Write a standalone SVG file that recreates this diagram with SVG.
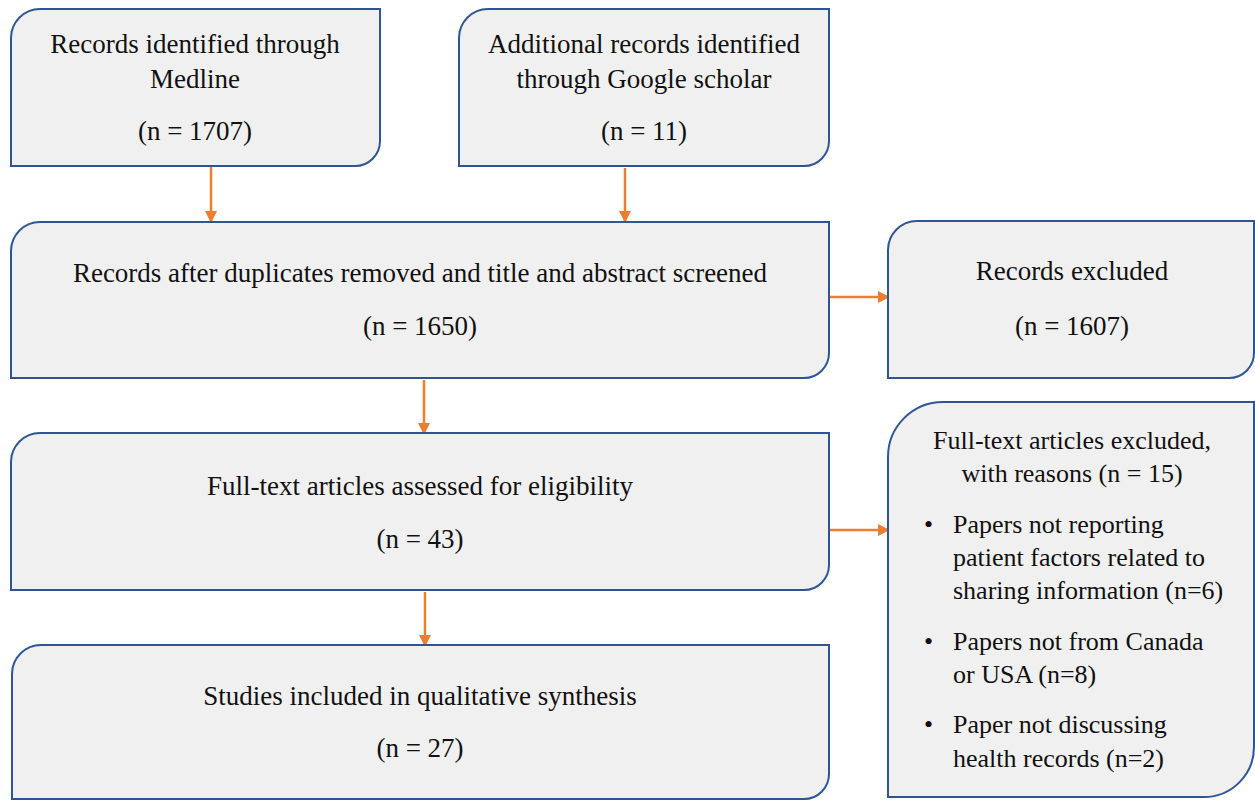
<svg xmlns="http://www.w3.org/2000/svg" width="1255" height="800" viewBox="0 0 1255 800">
<style>
.box{fill:#f0f0f0;stroke:#2f5597;stroke-width:2}
.t{font-family:"Liberation Serif","Times New Roman",serif;font-size:27px;fill:#111}
.s{font-size:26px}
.c{text-anchor:middle}
.arr{stroke:#ed7d31;stroke-width:2.5;fill:none;marker-end:url(#ah)}
</style>
<defs>
<marker id="ah" markerWidth="12" markerHeight="12" refX="10" refY="6" orient="auto" markerUnits="userSpaceOnUse">
<path d="M0,0 L12,6 L0,12 Z" fill="#ed7d31"/>
</marker>
</defs>
<rect width="1255" height="800" fill="#ffffff"/>
<g id="connectors">
<line class="arr" x1="211" y1="167" x2="211" y2="221"/>
<line class="arr" x1="625" y1="168" x2="625" y2="221"/>
<line class="arr" x1="830" y1="297" x2="888" y2="297"/>
<line class="arr" x1="424" y1="380" x2="424" y2="433"/>
<line class="arr" x1="425" y1="592" x2="425" y2="645"/>
<line class="arr" x1="830" y1="530" x2="888" y2="530"/>
</g>
<g id="medline">
<path class="box" d="M11,38 A29,29 0 0 1 40,9 H380 V141 A25,25 0 0 1 355,166 H11 Z"/>
<text class="t c" x="195" y="53">Records identified through</text>
<text class="t c" x="195" y="88">Medline</text>
<text class="t c" x="195" y="140">(n = 1707)</text>
</g>
<g id="google">
<path class="box" d="M459,38 A29,29 0 0 1 488,9 H829 V141 A25,25 0 0 1 804,166 H459 Z"/>
<text class="t c" x="644" y="53">Additional records identified</text>
<text class="t c" x="644" y="88">through Google scholar</text>
<text class="t c" x="644" y="140">(n = 11)</text>
</g>
<g id="screened">
<path class="box" d="M11,251 A29,29 0 0 1 40,222 H829 V353 A25,25 0 0 1 804,378 H11 Z"/>
<text class="t c" x="420" y="282">Records after duplicates removed and title and abstract screened</text>
<text class="t c" x="420" y="335">(n = 1650)</text>
</g>
<g id="excluded">
<path class="box" d="M888,250 A29,29 0 0 1 917,221 H1254 V353 A25,25 0 0 1 1229,378 H888 Z"/>
<text class="t c" x="1072" y="280">Records excluded</text>
<text class="t c" x="1072" y="335">(n = 1607)</text>
</g>
<g id="fulltext">
<path class="box" d="M11,462 A29,29 0 0 1 40,433 H829 V565 A25,25 0 0 1 804,590 H11 Z"/>
<text class="t c" x="420" y="495">Full-text articles assessed for eligibility</text>
<text class="t c" x="420" y="548">(n = 43)</text>
</g>
<g id="included">
<path class="box" d="M12,674 A29,29 0 0 1 41,645 H829 V774 A25,25 0 0 1 804,799 H12 Z"/>
<text class="t c" x="420" y="705">Studies included in qualitative synthesis</text>
<text class="t c" x="420" y="757">(n = 27)</text>
</g>
<g id="fulltext-excluded">
<path class="box" d="M888,457 A55,55 0 0 1 943,402 H1254 V747 A50,50 0 0 1 1204,797 H888 Z"/>
<text class="t s c" x="1072" y="449">Full-text articles excluded,</text>
<text class="t s c" x="1072" y="482">with reasons (n = 15)</text>
<text class="t s" x="924" y="533">•</text>
<text class="t s" x="953" y="533">Papers not reporting</text>
<text class="t s" x="953" y="566">patient factors related to</text>
<text class="t s" x="953" y="599">sharing information (n=6)</text>
<text class="t s" x="924" y="650">•</text>
<text class="t s" x="953" y="650">Papers not from Canada</text>
<text class="t s" x="953" y="683">or USA (n=8)</text>
<text class="t s" x="924" y="733">•</text>
<text class="t s" x="953" y="733">Paper not discussing</text>
<text class="t s" x="953" y="767">health records (n=2)</text>
</g>
</svg>
